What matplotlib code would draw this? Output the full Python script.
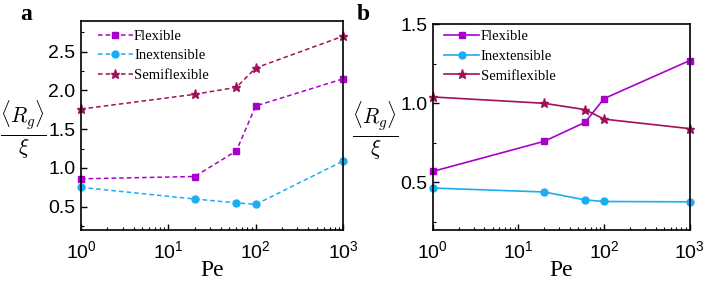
import matplotlib
matplotlib.use("Agg")
import matplotlib.pyplot as plt
from matplotlib.ticker import MultipleLocator, LogLocator, NullFormatter

pe = [1, 20, 60, 100, 1000]

# panel a (dashed)
a_flexible = [0.86, 0.89, 1.22, 1.80, 2.15]
a_inext = [0.75, 0.60, 0.55, 0.53, 1.09]
a_semi = [1.76, 1.95, 2.04, 2.29, 2.70]

# panel b (solid)
b_flexible = [0.57, 0.76, 0.88, 1.03, 1.27]
b_inext = [0.465, 0.44, 0.39, 0.38, 0.378]
b_semi = [1.04, 1.00, 0.96, 0.90, 0.84]

labels = ["Flexible", "Inextensible", "Semiflexible"]
colors = ["#AA00CC", "#1AAEF0", "#A0105A"]
markers = ["s", "o", "*"]
msizes = [4.2, 5, 6.5]

plt.rcParams["font.family"] = "Liberation Sans"
plt.rcParams["mathtext.fontset"] = "cm"

fig = plt.figure(figsize=(7.06, 2.87), dpi=100)
ax1 = fig.add_axes([0.1147, 0.1986, 0.3713, 0.7294])
ax2 = fig.add_axes([0.613, 0.1986, 0.364, 0.7174])


def style(ax, ylim, major, label_x, anchor):
    ax.set_xscale("log")
    ax.set_xlim(1, 1000)
    ax.set_ylim(*ylim)
    ax.yaxis.set_major_locator(MultipleLocator(major))
    ax.yaxis.set_minor_locator(MultipleLocator(0.25))
    ax.xaxis.set_minor_locator(LogLocator(base=10, subs=range(2, 10)))
    ax.xaxis.set_minor_formatter(NullFormatter())
    ax.tick_params(which="both", direction="in", top=False, right=False, labelsize=14)
    ax.tick_params(which="major", length=4, width=1)
    ax.tick_params(which="minor", length=2, width=0.8)
    ax.tick_params(axis="x", pad=7)
    ax.tick_params(axis="y", pad=4)
    for s in ax.spines.values():
        s.set_linewidth(1.2)
    ax.set_xlabel("Pe", family="Liberation Serif", fontsize=17, labelpad=-1)
    ax.set_ylabel(r"$\frac{\langle R_g\rangle}{\xi}$", fontsize=22, rotation=0,
                  va="center", ha="center")
    ax.yaxis.set_label_coords(label_x, 0.478)
    ax.legend(loc="upper left", bbox_to_anchor=anchor, frameon=False,
              handlelength=2.4, handletextpad=0.1,
              labelspacing=0.45, borderaxespad=0.3, borderpad=0.3,
              prop={"family": "Liberation Serif", "size": 10.5})


series_a = [a_flexible, a_inext, a_semi]
for ys, lab, c, m, ms in zip(series_a, labels, colors, markers, msizes):
    ax1.plot(pe, ys, ls=(0, (3, 2)), color=c, marker=m, ms=ms, lw=1.1, label=lab, clip_on=False)
style(ax1, (0.2, 2.9), 0.5, -0.218, (0.03, 1.0))
ax1.set_yticks([0.5, 1.0, 1.5, 2.0, 2.5])

series_b = [b_flexible, b_inext, b_semi]
for ys, lab, c, m, ms in zip(series_b, labels, colors, markers, msizes):
    ax2.plot(pe, ys, ls="-", color=c, marker=m, ms=ms, lw=1.2, label=lab, clip_on=False)
style(ax2, (0.2, 1.5), 0.5, -0.224, (0.01, 1.015))
ax2.set_yticks([0.5, 1.0, 1.5])

fig.text(0.028, 0.93, "a", family="Liberation Serif", fontweight="bold", fontsize=17)
fig.text(0.505, 0.93, "b", family="Liberation Serif", fontweight="bold", fontsize=17)

fig.savefig("out.png", dpi=100)
